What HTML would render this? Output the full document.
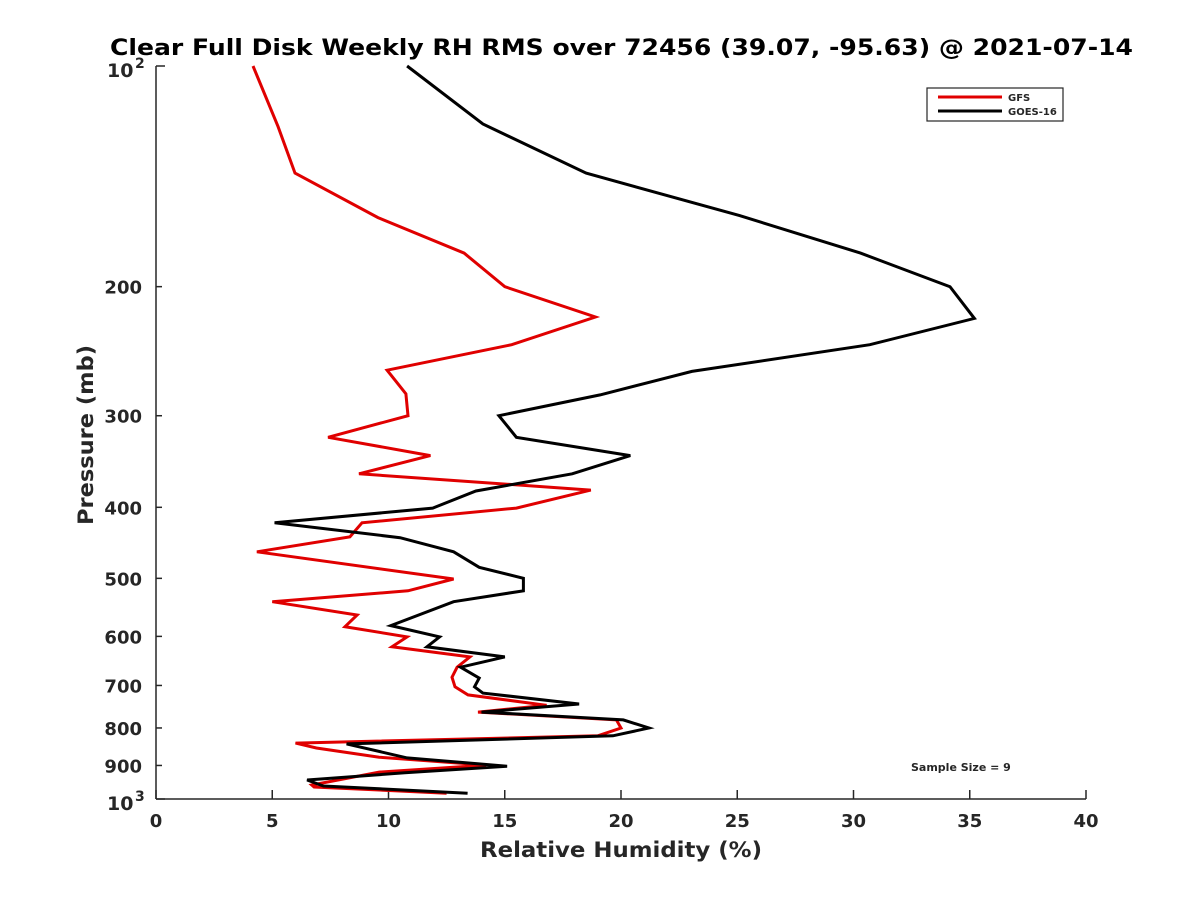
<!DOCTYPE html>
<html><head><meta charset="utf-8">
<style>
body{margin:0;background:#fff;}
svg text{font-family:"DejaVu Sans","Liberation Sans",sans-serif;font-weight:bold;fill:#262626;}
</style></head>
<body>
<svg id="chart" width="1200" height="900" xmlns="http://www.w3.org/2000/svg">
<rect width="1200" height="900" fill="#fff"/>
<text x="110" y="55" font-size="22" textLength="1023" lengthAdjust="spacingAndGlyphs" style="fill:#000">Clear Full Disk Weekly RH RMS over 72456 (39.07, -95.63) @ 2021-07-14</text>
<g id="axes"></g>
<g id="series"></g>
<g>
<rect x="927" y="88" width="136" height="33" fill="#fff" stroke="#262626" stroke-width="1.2"/>
<line x1="938" y1="97" x2="1002" y2="97" stroke="#e00000" stroke-width="3"/>
<text x="1008" y="101" font-size="10">GFS</text>
<line x1="938" y1="111" x2="1002" y2="111" stroke="#000" stroke-width="3"/>
<text x="1008" y="115" font-size="10">GOES-16</text>
</g>
<text x="911" y="771" font-size="11">Sample Size = 9</text>
<text x="480" y="857" font-size="21" textLength="282" lengthAdjust="spacingAndGlyphs">Relative Humidity (%)</text>
<text transform="translate(93,525) rotate(-90)" font-size="21" textLength="180" lengthAdjust="spacingAndGlyphs">Pressure (mb)</text>
</svg>
<script>
const xTicks=[0,5,10,15,20,25,30,35,40];
const yTicks=[200,300,400,500,600,700,800,900];
const gfsRH=[4.17,5.25,5.98,9.55,13.25,15.0,18.9,15.3,9.94,10.75,10.84,7.4,11.8,8.73,18.7,15.5,8.86,8.34,4.34,12.8,10.84,5.0,8.65,8.13,10.8,10.15,13.5,12.95,12.73,12.86,13.42,16.8,13.85,19.8,20.0,19.0,6.0,6.9,9.6,14.2,9.6,6.7,6.8,12.5];
const gfsP=[100,121,140,161,180,200,220,240,260,280,300,321,340,360,379,401,420,439,460,501,520,538,561,582,601,620,640,661,682,703,721,745,761,780,800,820,839,852,877,899,919,957,963,982];
const goesRH=[10.8,14.06,18.5,25.1,30.3,34.15,35.2,30.7,23.05,19.1,14.75,15.5,20.4,17.9,13.76,11.9,5.1,10.5,12.8,13.9,15.8,15.8,12.8,10.1,12.2,11.65,15.0,13.1,13.9,13.7,14.06,18.2,14.0,20.1,21.2,19.65,8.2,10.8,15.1,10.7,6.5,7.2,13.4];
const goesP=[100,120,140,160,180,200,221,240,261,281,300,321,340,360,380,401,420,440,460,483,500,520,538,580,601,620,640,661,684,703,717,742,761,780,800,820,841,879,902,921,942,960,982];

const L=156,R=1086,T=66,B=799;
const xs=v=>L+(v/40)*(R-L);
const ys=p=>T+(Math.log10(p)-2)*(B-T);
const NS="http://www.w3.org/2000/svg";
const ax=document.getElementById('axes');
function mk(tag,attrs,parent){const e=document.createElementNS(NS,tag);for(const k in attrs)e.setAttribute(k,attrs[k]);parent.appendChild(e);return e;}
let l=mk('line',{x1:L,y1:T,x2:L,y2:B,stroke:'#262626','stroke-width':1.5},ax);


l=mk('line',{x1:L,y1:B,x2:R,y2:B,stroke:'#262626','stroke-width':1.5},ax);


xTicks.forEach(v=>{
  const x=xs(v);
  const t=mk('line',{x1:x,y1:B,x2:x,y2:B-9,stroke:'#262626','stroke-width':1.5},ax);
  
  
  const tx=mk('text',{x:x,y:B+28,'font-size':18,'text-anchor':'middle'},ax);
  tx.textContent=v;
  
  
});
yTicks.forEach(p=>{
  const y=ys(p);
  const t=mk('line',{x1:L,y1:y,x2:L+6,y2:y,stroke:'#262626','stroke-width':1.5},ax);
  
  
  const tx=mk('text',{x:L-14,y:y+7,'font-size':18,'text-anchor':'end'},ax);
  tx.textContent=p;
  
  
});
[[100,'2'],[1000,'3']].forEach(([p,e])=>{
  const y=ys(p);
  const t=mk('line',{x1:L,y1:y,x2:L+9,y2:y,stroke:'#262626','stroke-width':1.5},ax);
  
  
  const tx=mk('text',{x:107,y:y+11,'font-size':19,'text-anchor':'start'},ax);
  tx.textContent='10';
  
  
  const sp=mk('text',{x:135,y:y+2,'font-size':14,'text-anchor':'start'},ax);
  sp.textContent=e;
  
  
});
const sg=document.getElementById('series');
function line(rh,p,col,name){
  const pts=rh.map((v,i)=>xs(v).toFixed(1)+','+ys(p[i]).toFixed(1)).join(' ');
  const e=mk('polyline',{points:pts,fill:'none',stroke:col,'stroke-width':3,'stroke-linejoin':'miter'},sg);
  
  
}
line(gfsRH,gfsP,'#e00000','gfs-line');
line(goesRH,goesP,'#000','goes16-line');
</script>
</body></html>
